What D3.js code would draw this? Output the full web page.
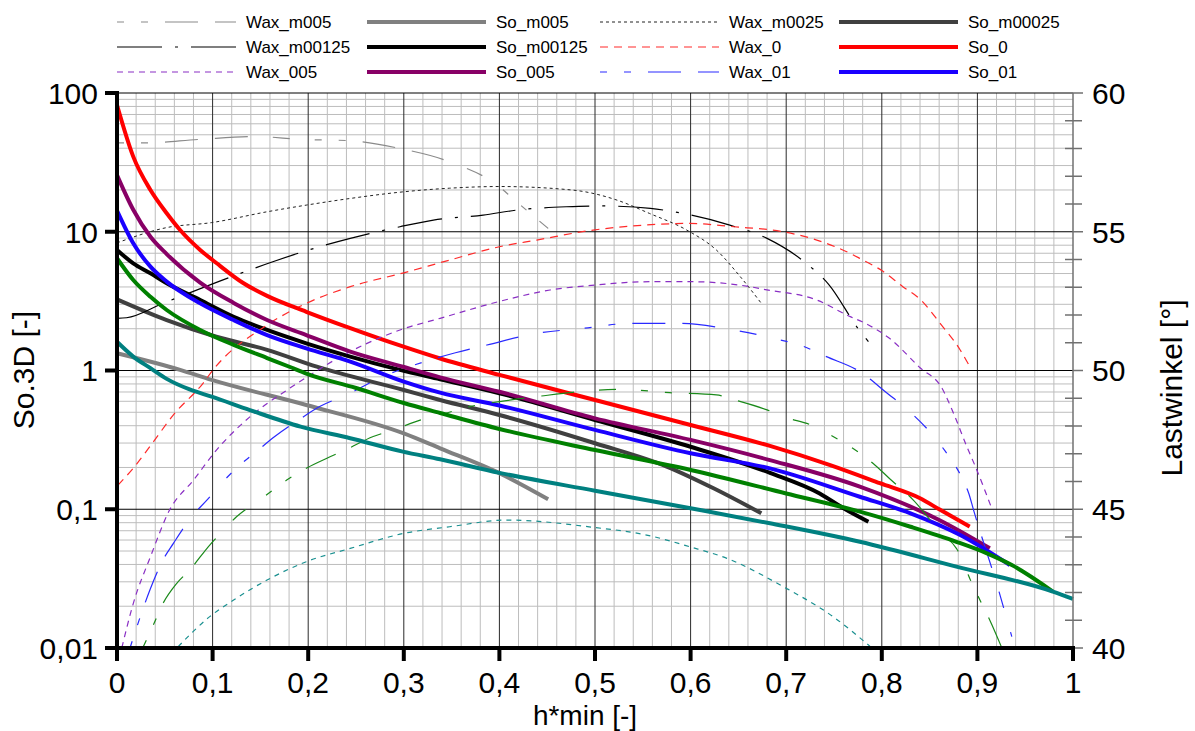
<!DOCTYPE html>
<html>
<head>
<meta charset="utf-8">
<script src="https://cdn.jsdelivr.net/npm/d3@7"></script>
<style>
  body{margin:0;background:#fff}
  svg{display:block;font-family:"Liberation Sans",Arial,sans-serif}
</style>
</head>
<body>
<div id="chart"></div>
<script>
  // shared config
  var width  = 1195,
      height = 731,
      m = {l:117, r:1073, t:93, b:648};

  // ticks
  var xTicks     = [0,0.1,0.2,0.3,0.4,0.5,0.6,0.7,0.8,0.9,1],
      yTicks     = [0.01,0.1,1,10,100],
      angleTicks = [40,45,50,55,60];

  // So.3D series (left, log)  [h*min, So]
  var So_m005   = [[0,1.33],[0.066,1.01],[0.099,0.855],[0.198,0.564],[0.3,0.352],[0.338,0.275],[0.4,0.182],[0.451,0.118]];
  var So_m00025 = [[0,3.26],[0.052,2.31],[0.104,1.75],[0.157,1.41],[0.209,1.065],[0.3,0.724],[0.338,0.613],[0.4,0.478],[0.5,0.299],[0.575,0.203],[0.624,0.1416],[0.674,0.0935]];
  var So_m00125 = [[0,7.39],[0.017,5.92],[0.035,5.02],[0.052,4.25],[0.087,3.22],[0.122,2.44],[0.157,1.96],[0.198,1.57],[0.244,1.26],[0.296,1.01],[0.338,0.864],[0.4,0.685],[0.5,0.44],[0.6,0.282],[0.683,0.183],[0.735,0.13],[0.76,0.1016],[0.786,0.0813]];
  var So_0      = [[0,82],[0.017,34.8],[0.035,20],[0.052,13.6],[0.066,10.3],[0.087,7.4],[0.104,5.95],[0.132,4.27],[0.157,3.45],[0.198,2.65],[0.244,2.02],[0.299,1.49],[0.338,1.22],[0.4,0.93],[0.5,0.613],[0.6,0.405],[0.683,0.286],[0.746,0.208],[0.798,0.154],[0.84,0.12],[0.861,0.099],[0.892,0.075]];
  var So_005    = [[0,25.6],[0.017,14.4],[0.035,9.2],[0.052,6.9],[0.087,4.3],[0.122,3.07],[0.157,2.31],[0.198,1.8],[0.244,1.37],[0.299,1.065],[0.338,0.893],[0.4,0.703],[0.5,0.452],[0.6,0.316],[0.683,0.226],[0.777,0.1455],[0.86,0.0837],[0.913,0.0523]];
  var So_01     = [[0,14.2],[0.017,8.26],[0.035,5.6],[0.052,4.37],[0.087,3.05],[0.122,2.31],[0.157,1.8],[0.198,1.445],[0.244,1.16],[0.3,0.832],[0.338,0.692],[0.4,0.56],[0.5,0.373],[0.6,0.253],[0.683,0.197],[0.777,0.123],[0.83,0.0935],[0.882,0.0652],[0.934,0.0396]];
  var So_015    = [[0,6.44],[0.017,4.49],[0.035,3.4],[0.052,2.73],[0.087,1.96],[0.122,1.53],[0.157,1.23],[0.181,1.06],[0.198,0.95],[0.25,0.748],[0.3,0.583],[0.338,0.494],[0.4,0.379],[0.5,0.267],[0.6,0.192],[0.7,0.13],[0.777,0.0961],[0.83,0.0748],[0.878,0.0583],[0.91,0.0481],[0.936,0.0396],[0.979,0.0255]];
  var So_02     = [[0,1.61],[0.017,1.26],[0.035,1.04],[0.052,0.87],[0.076,0.73],[0.099,0.648],[0.139,0.519],[0.192,0.394],[0.244,0.325],[0.299,0.26],[0.338,0.229],[0.4,0.183],[0.5,0.136],[0.6,0.1016],[0.683,0.0792],[0.777,0.0583],[0.878,0.0386],[0.979,0.0255],[1,0.0226]];

  // Lastwinkel series (right, linear)  [h*min, deg]
  var Wax_m005   = [[0,58.2],[0.028,58.2],[0.087,58.33],[0.146,58.43],[0.192,58.33],[0.244,58.28],[0.296,58.0],[0.348,57.52],[0.4,56.62],[0.414,56.2],[0.451,55.12]];
  var Wax_m0025  = [[0,54.6],[0.052,55.15],[0.099,55.33],[0.157,55.72],[0.198,55.96],[0.244,56.2],[0.3,56.44],[0.348,56.57],[0.4,56.63],[0.477,56.5],[0.523,56.14],[0.557,55.66],[0.596,55.06],[0.627,54.34],[0.652,53.38],[0.674,52.42]];
  var Wax_m00125 = [[0,51.88],[0.01,51.9],[0.048,52.42],[0.129,53.5],[0.163,53.92],[0.212,54.46],[0.244,54.76],[0.296,55.18],[0.331,55.42],[0.383,55.6],[0.418,55.78],[0.47,55.9],[0.505,55.93],[0.558,55.84],[0.592,55.66],[0.641,55.24],[0.68,54.76],[0.721,53.86],[0.745,53.08],[0.775,51.52],[0.786,51.04]];
  var Wax_0      = [[0.001,45.87],[0.017,46.48],[0.038,47.43],[0.059,48.4],[0.09,49.54],[0.1,50.0],[0.157,51.64],[0.198,52.42],[0.244,53.02],[0.3,53.52],[0.348,53.98],[0.4,54.46],[0.439,54.7],[0.498,55.06],[0.54,55.21],[0.599,55.3],[0.645,55.18],[0.697,55.0],[0.732,54.7],[0.767,54.22],[0.777,54.04],[0.8,53.6],[0.822,53.02],[0.84,52.57],[0.861,51.7],[0.882,50.74],[0.892,50.14]];
  var Wax_005    = [[0.005,40],[0.017,41.6],[0.035,43.29],[0.055,44.97],[0.08,46.05],[0.104,47.13],[0.139,48.33],[0.178,49.3],[0.205,49.9],[0.216,50.14],[0.296,51.46],[0.338,51.88],[0.399,52.48],[0.453,52.9],[0.5,53.08],[0.558,53.2],[0.6,53.2],[0.662,53.02],[0.676,52.93],[0.732,52.54],[0.767,51.94],[0.781,51.73],[0.808,51.16],[0.84,50.1],[0.863,49.36],[0.875,48.46],[0.889,47.25],[0.898,46.53],[0.915,45.03]];
  var Wax_01     = [[0.0136,40],[0.028,41.49],[0.0345,42.1],[0.048,43.17],[0.059,43.77],[0.078,44.73],[0.094,45.33],[0.111,46.0],[0.125,46.48],[0.15,47.2],[0.165,47.62],[0.191,48.24],[0.212,48.7],[0.24,49.12],[0.282,49.84],[0.306,50.14],[0.354,50.64],[0.387,50.92],[0.439,51.34],[0.488,51.52],[0.538,51.7],[0.589,51.7],[0.645,51.46],[0.694,51.1],[0.714,50.92],[0.742,50.5],[0.777,49.96],[0.805,49.2],[0.831,48.46],[0.863,47.25],[0.885,46.05],[0.891,45.57],[0.896,44.97],[0.922,42.1],[0.936,40.41]];
  var Wax_015    = [[0.0276,40.05],[0.038,40.83],[0.048,41.6],[0.0625,42.33],[0.076,42.81],[0.097,43.71],[0.1095,44.17],[0.125,44.73],[0.136,45.03],[0.15,45.36],[0.1775,46.05],[0.198,46.48],[0.219,46.83],[0.2385,47.13],[0.268,47.62],[0.289,47.86],[0.32,48.24],[0.338,48.4],[0.369,48.7],[0.4,48.88],[0.439,49.06],[0.526,49.32],[0.578,49.2],[0.627,49.12],[0.646,48.94],[0.68,48.58],[0.697,48.34],[0.73,47.98],[0.746,47.68],[0.775,47.07],[0.791,46.65],[0.808,46.11],[0.833,45.33],[0.861,44.19],[0.878,43.59],[0.884,43.23],[0.8905,42.63],[0.9045,41.6],[0.913,41.0],[0.925,40.05]];
  var Wax_02     = [[0.064,40.05],[0.097,41.13],[0.122,41.73],[0.157,42.45],[0.198,43.11],[0.244,43.59],[0.3,44.13],[0.348,44.37],[0.408,44.61],[0.498,44.35],[0.554,44.07],[0.599,43.65],[0.638,43.23],[0.697,42.21],[0.749,41.13],[0.788,40.05]];

  // dash patterns
  var longDash = '7,17,7,17,33,17,33,25,17,25',
      dashDot  = '45,13,3,13';

  // series in drawing order (first 12 are in the legend)
  var series = [
    {name:'Wax_m005',   data:Wax_m005,   axis:'r', color:'#8a8a8a', w:1.2, dash:longDash},
    {name:'So_m005',    data:So_m005,    axis:'l', color:'#808080', w:4},
    {name:'Wax_m0025',  data:Wax_m0025,  axis:'r', color:'#222',    w:1,   dash:'3,3'},
    {name:'So_m00025',  data:So_m00025,  axis:'l', color:'#404040', w:4},
    {name:'Wax_m00125', data:Wax_m00125, axis:'r', color:'#000',    w:1.2, dash:dashDot},
    {name:'So_m00125',  data:So_m00125,  axis:'l', color:'#000',    w:4},
    {name:'Wax_0',      data:Wax_0,      axis:'r', color:'#ff2a2a', w:1.2, dash:'8,6'},
    {name:'So_0',       data:So_0,       axis:'l', color:'#ff0000', w:4},
    {name:'Wax_005',    data:Wax_005,    axis:'r', color:'#8a2fc4', w:1.2, dash:'6,5'},
    {name:'So_005',     data:So_005,     axis:'l', color:'#880066', w:4},
    {name:'Wax_01',     data:Wax_01,     axis:'r', color:'#2a2aff', w:1.2, dash:longDash},
    {name:'So_01',      data:So_01,      axis:'l', color:'#1a00ff', w:4},
    {name:'Wax_015',    data:Wax_015,    axis:'r', color:'#1a8a1a', w:1.2, dash:longDash},
    {name:'So_015',     data:So_015,     axis:'l', color:'#008000', w:4},
    {name:'Wax_02',     data:Wax_02,     axis:'r', color:'#1a9090', w:1.2, dash:'5,5'},
    {name:'So_02',      data:So_02,      axis:'l', color:'#008080', w:4}
  ];

  var svg = d3.select('#chart').append('svg')
    .attr('width', width)
    .attr('height', height);

  // scales
  var x = d3.scaleLinear().domain([0,1]).range([m.l, m.r]),
      y = d3.scaleLog().domain([0.01,100]).range([m.b, m.t]),
      yr = d3.scaleLinear().domain([40,60]).range([m.b, m.t]);

  function comma(v){ return String(+v.toFixed(2)).replace('.', ',') }

  // ** grid **
  var grid = svg.append('g');

  var minorX = d3.range(0, 1.0001, 0.02).filter(function(v){
    return Math.abs(v*10 - Math.round(v*10)) > 0.01
  });
  grid.selectAll('.vx').data(minorX).enter().append('line')
    .attr('x1', x).attr('x2', x).attr('y1', m.t).attr('y2', m.b)
    .attr('stroke', '#bdbdbd').attr('stroke-width', 1);

  var minorY = [];
  yTicks.slice(0, -1).forEach(function(d){
    for (var k = 2; k <= 9; k++) minorY.push(d*k);
  });
  grid.selectAll('.hy').data(minorY).enter().append('line')
    .attr('x1', m.l).attr('x2', m.r).attr('y1', y).attr('y2', y)
    .attr('stroke', '#bdbdbd').attr('stroke-width', 1);

  grid.selectAll('.vmaj').data(xTicks.slice(1, -1)).enter().append('line')
    .attr('x1', x).attr('x2', x).attr('y1', m.t).attr('y2', m.b)
    .attr('stroke', '#2a2a2a').attr('stroke-width', 1);

  grid.selectAll('.hmaj').data(yTicks.slice(1)).enter().append('line')
    .attr('x1', m.l).attr('x2', m.r).attr('y1', y).attr('y2', y)
    .attr('stroke', '#000').attr('stroke-width', 1);

  // ** curves **
  var plot = svg.append('g');

  series.forEach(function(s){
    var ys = s.axis == 'l' ? y : yr;
    var line = d3.line()
      .x(function(d){ return x(d[0]) })
      .y(function(d){ return ys(d[1]) })
      .curve(d3.curveMonotoneX);
    plot.append('path')
      .attr('d', line(s.data))
      .attr('fill', 'none')
      .attr('stroke', s.color)
      .attr('stroke-width', s.w)
      .attr('stroke-dasharray', s.dash || null)
      .attr('stroke-linejoin', 'round');
  });

  // ** axes **
  var axes = svg.append('g');

  // right axis (grey, thin)
  axes.append('line')
    .attr('x1', m.r).attr('x2', m.r).attr('y1', m.t).attr('y2', m.b)
    .attr('stroke', '#707070').attr('stroke-width', 1.5);
  axes.selectAll('.rmin').data(d3.range(41, 60).filter(function(d){ return d % 5 })).enter().append('line')
    .attr('x1', m.r - 8).attr('x2', m.r + 9).attr('y1', yr).attr('y2', yr)
    .attr('stroke', '#707070').attr('stroke-width', 1.5);
  axes.selectAll('.rmaj').data(angleTicks).enter().append('line')
    .attr('x1', m.r).attr('x2', m.r + 10).attr('y1', yr).attr('y2', yr)
    .attr('stroke', '#707070').attr('stroke-width', 1.5);

  // left + bottom (thick black)
  axes.append('line')
    .attr('x1', m.l).attr('x2', m.l).attr('y1', m.t - 2).attr('y2', m.b + 2)
    .attr('stroke', '#000').attr('stroke-width', 4);
  axes.append('line')
    .attr('x1', m.l - 2).attr('x2', m.r + 2).attr('y1', m.b).attr('y2', m.b)
    .attr('stroke', '#000').attr('stroke-width', 4);
  axes.selectAll('.lt').data(yTicks).enter().append('line')
    .attr('x1', m.l - 12).attr('x2', m.l).attr('y1', y).attr('y2', y)
    .attr('stroke', '#000').attr('stroke-width', 4);
  axes.selectAll('.bt').data(xTicks).enter().append('line')
    .attr('x1', x).attr('x2', x).attr('y1', m.b).attr('y2', m.b + 13)
    .attr('stroke', '#000').attr('stroke-width', 4);

  // tick labels
  var labels = svg.append('g').attr('font-size', 30).attr('fill', '#000');

  labels.selectAll('.yl').data(yTicks).enter().append('text')
    .attr('x', 98).attr('y', y).attr('dy', '0.36em')
    .attr('text-anchor', 'end')
    .text(comma);

  labels.selectAll('.rl').data(angleTicks).enter().append('text')
    .attr('x', m.r + 19).attr('y', yr).attr('dy', '0.36em')
    .text(function(d){ return d });

  labels.selectAll('.xl').data(xTicks).enter().append('text')
    .attr('x', x).attr('y', 693)
    .attr('text-anchor', 'middle')
    .text(comma);

  // axis titles
  labels.append('text')
    .attr('x', 585).attr('y', 725)
    .attr('font-size', 28)
    .attr('text-anchor', 'middle')
    .text('h*min [-]');

  labels.append('text')
    .attr('transform', 'translate(34,370) rotate(-90)')
    .attr('text-anchor', 'middle')
    .text('So.3D [-]');

  labels.append('text')
    .attr('transform', 'translate(1182,388) rotate(-90)')
    .attr('text-anchor', 'middle')
    .text('Lastwinkel [°]');

  // ** legend **
  var legendCols = [117, 367, 600, 839],
      legendRows = [22, 47, 72];

  var legend = svg.append('g').attr('font-size', 17);

  series.slice(0, 12).forEach(function(s, i){
    var lx = legendCols[i % 4],
        ly = legendRows[Math.floor(i / 4)];
    legend.append('line')
      .attr('x1', lx).attr('x2', lx + 119)
      .attr('y1', ly).attr('y2', ly)
      .attr('stroke', s.color)
      .attr('stroke-width', s.w)
      .attr('stroke-dasharray', s.dash || null);
    legend.append('text')
      .attr('x', lx + 129).attr('y', ly).attr('dy', '0.36em')
      .text(s.name);
  });
</script>
</body>
</html>
